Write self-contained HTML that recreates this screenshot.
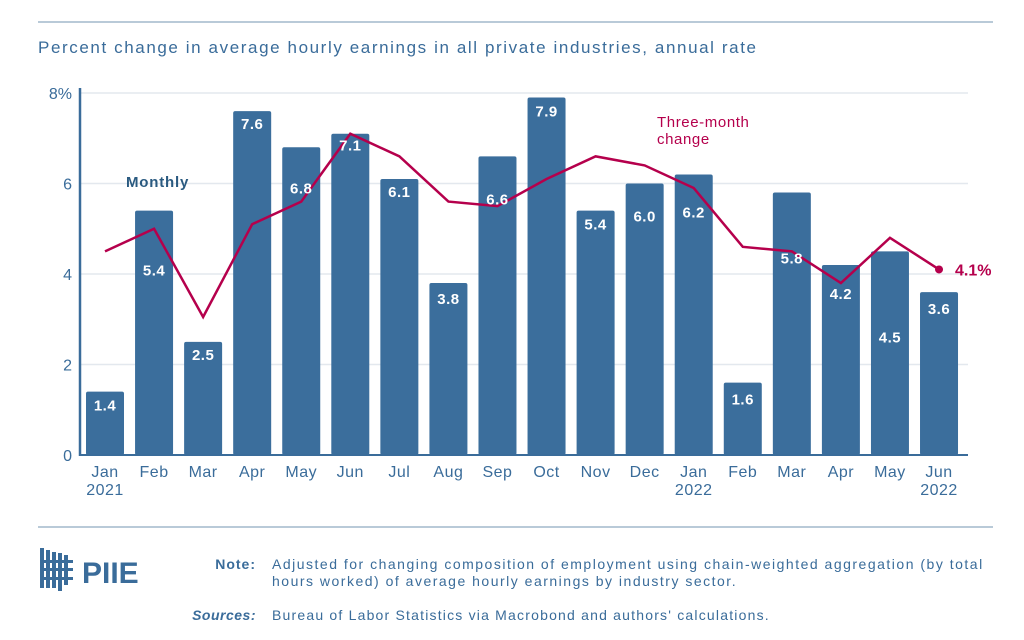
<!DOCTYPE html>
<html><head><meta charset="utf-8"><style>
body{margin:0;background:#fff;font-family:"Liberation Sans",sans-serif;}
svg text{font-family:"Liberation Sans",sans-serif;}
</style></head><body>
<svg id="c" width="1024" height="635" viewBox="0 0 1024 635">
<line x1="38" y1="22" x2="993" y2="22" stroke="#b9cad8" stroke-width="2"/>
<text x="38" y="53" font-size="17" letter-spacing="1.6" fill="#3a6c9a">Percent change in average hourly earnings in all private industries, annual rate</text>
<g id="grid"></g><g id="bars"></g><g id="line"></g><g id="labels"></g>
<text x="126" y="187" font-size="15" font-weight="bold" letter-spacing="0.8" fill="#2a5a80">Monthly</text>
<text x="657" y="127" font-size="15" letter-spacing="0.6" fill="#b5004c">Three-month</text>
<text x="657" y="144" font-size="15" letter-spacing="0.6" fill="#b5004c">change</text>
<line x1="38" y1="527" x2="993" y2="527" stroke="#b9cad8" stroke-width="2"/>
<g fill="#3a6c9a">
<rect x="40" y="548" width="4" height="40"/><rect x="46" y="550" width="4" height="38"/><rect x="52" y="552" width="4" height="36"/><rect x="58" y="553" width="4" height="38"/><rect x="64" y="555" width="4" height="30"/>
<rect x="40" y="560" width="33" height="3"/><rect x="40" y="568" width="33" height="3"/><rect x="40" y="577" width="33" height="3"/>
<text x="82" y="583" font-size="30" font-weight="bold">PIIE</text></g>
<text x="256" y="569" font-size="14" font-weight="bold" letter-spacing="1" fill="#3a6c9a" text-anchor="end">Note:</text>
<text x="272" y="569" font-size="14" letter-spacing="1.5" fill="#3a6c9a">Adjusted for changing composition of employment using chain-weighted aggregation (by total</text>
<text x="272" y="586" font-size="14" letter-spacing="1.5" fill="#3a6c9a">hours worked) of average hourly earnings by industry sector.</text>
<text x="256" y="620" font-size="14" font-weight="bold" font-style="italic" letter-spacing="0.5" fill="#3a6c9a" text-anchor="end">Sources:</text>
<text x="272" y="620" font-size="14" letter-spacing="1.2" fill="#3a6c9a">Bureau of Labor Statistics via Macrobond and authors' calculations.</text>
</svg>
<script>
const months=["Jan","Feb","Mar","Apr","May","Jun","Jul","Aug","Sep","Oct","Nov","Dec","Jan","Feb","Mar","Apr","May","Jun"];
const years=["2021","","","","","","","","","","","","2022","","","","","2022"];
const monthly=[1.4,5.4,2.5,7.6,6.8,7.1,6.1,3.8,6.6,7.9,5.4,6.0,6.2,1.6,5.8,4.2,4.5,3.6];
const threeMonth=[4.5,5.0,3.05,5.1,5.6,7.1,6.6,5.6,5.5,6.1,6.6,6.4,5.9,4.6,4.5,3.8,4.8,4.1];
const yTicks=[0,2,4,6,8];
// label drop below bar top (px), chosen to avoid the line
const labelDrop=[13,59,12,12,40,4,12,15,42,13,13,32,37,16,65,28,85,16];
const NS="http://www.w3.org/2000/svg";
const y=v=>455-v*45.25, x=i=>105+i*49.06;
function mk(t,a,p){const e=document.createElementNS(NS,t);for(const k in a)e.setAttribute(k,a[k]);p.appendChild(e);return e;}
const g=document.getElementById('grid'),b=document.getElementById('bars'),l=document.getElementById('line'),lb=document.getElementById('labels');
yTicks.forEach(t=>{
 if(t>0){const gl=mk('line',{x1:80,x2:968,y1:y(t),y2:y(t),stroke:'#e3e8ee','stroke-width':1.5},g);
 
 }
 const tx=mk('text',{x:72,y:y(t)+6,'font-size':16,fill:'#3a6c9a','text-anchor':'end'},g);
 tx.textContent=t===8?'8%':String(t);
 
 
});
monthly.forEach((v,i)=>{
 const r=mk('rect',{x:x(i)-19,y:y(v),width:38,height:455-y(v),fill:'#3b6e9c',rx:2},b);
 
 
 let ly=y(v)+labelDrop[i]+6; if(ly<y(v)+17)ly=y(v)+17;
 const t=mk('text',{x:x(i),y:Math.min(ly,448),'font-size':15,'font-weight':'bold',fill:'#fff','text-anchor':'middle','letter-spacing':0.5},lb);
 t.textContent=v.toFixed(1);
 
 
 const m=mk('text',{x:x(i),y:477,'font-size':16,fill:'#3a6c9a','text-anchor':'middle','letter-spacing':0.5},lb);
 m.textContent=months[i];
 
 
 if(years[i]){const yy=mk('text',{x:x(i),y:495,'font-size':16,fill:'#3a6c9a','text-anchor':'middle','letter-spacing':0.5},lb);
 yy.textContent=years[i];
 
 }
});
const ax=mk('line',{x1:80,x2:80,y1:88,y2:456,stroke:'#3a6c9a','stroke-width':2.5},g);


const bx=mk('line',{x1:80,x2:968,y1:455,y2:455,stroke:'#3a6c9a','stroke-width':2},b);


const pl=mk('polyline',{points:threeMonth.map((v,i)=>x(i)+','+y(v)).join(' '),fill:'none',stroke:'#b5004c','stroke-width':2.5},l);


const n=threeMonth.length-1;
const dot=mk('circle',{cx:x(n),cy:y(threeMonth[n]),r:4,fill:'#b5004c'},l);


const lt=mk('text',{x:x(n)+16,y:y(threeMonth[n])+6,'font-size':16,'font-weight':'bold',fill:'#b5004c'},l);
lt.textContent=threeMonth[n].toFixed(1)+'%';


</script>
</body></html>
